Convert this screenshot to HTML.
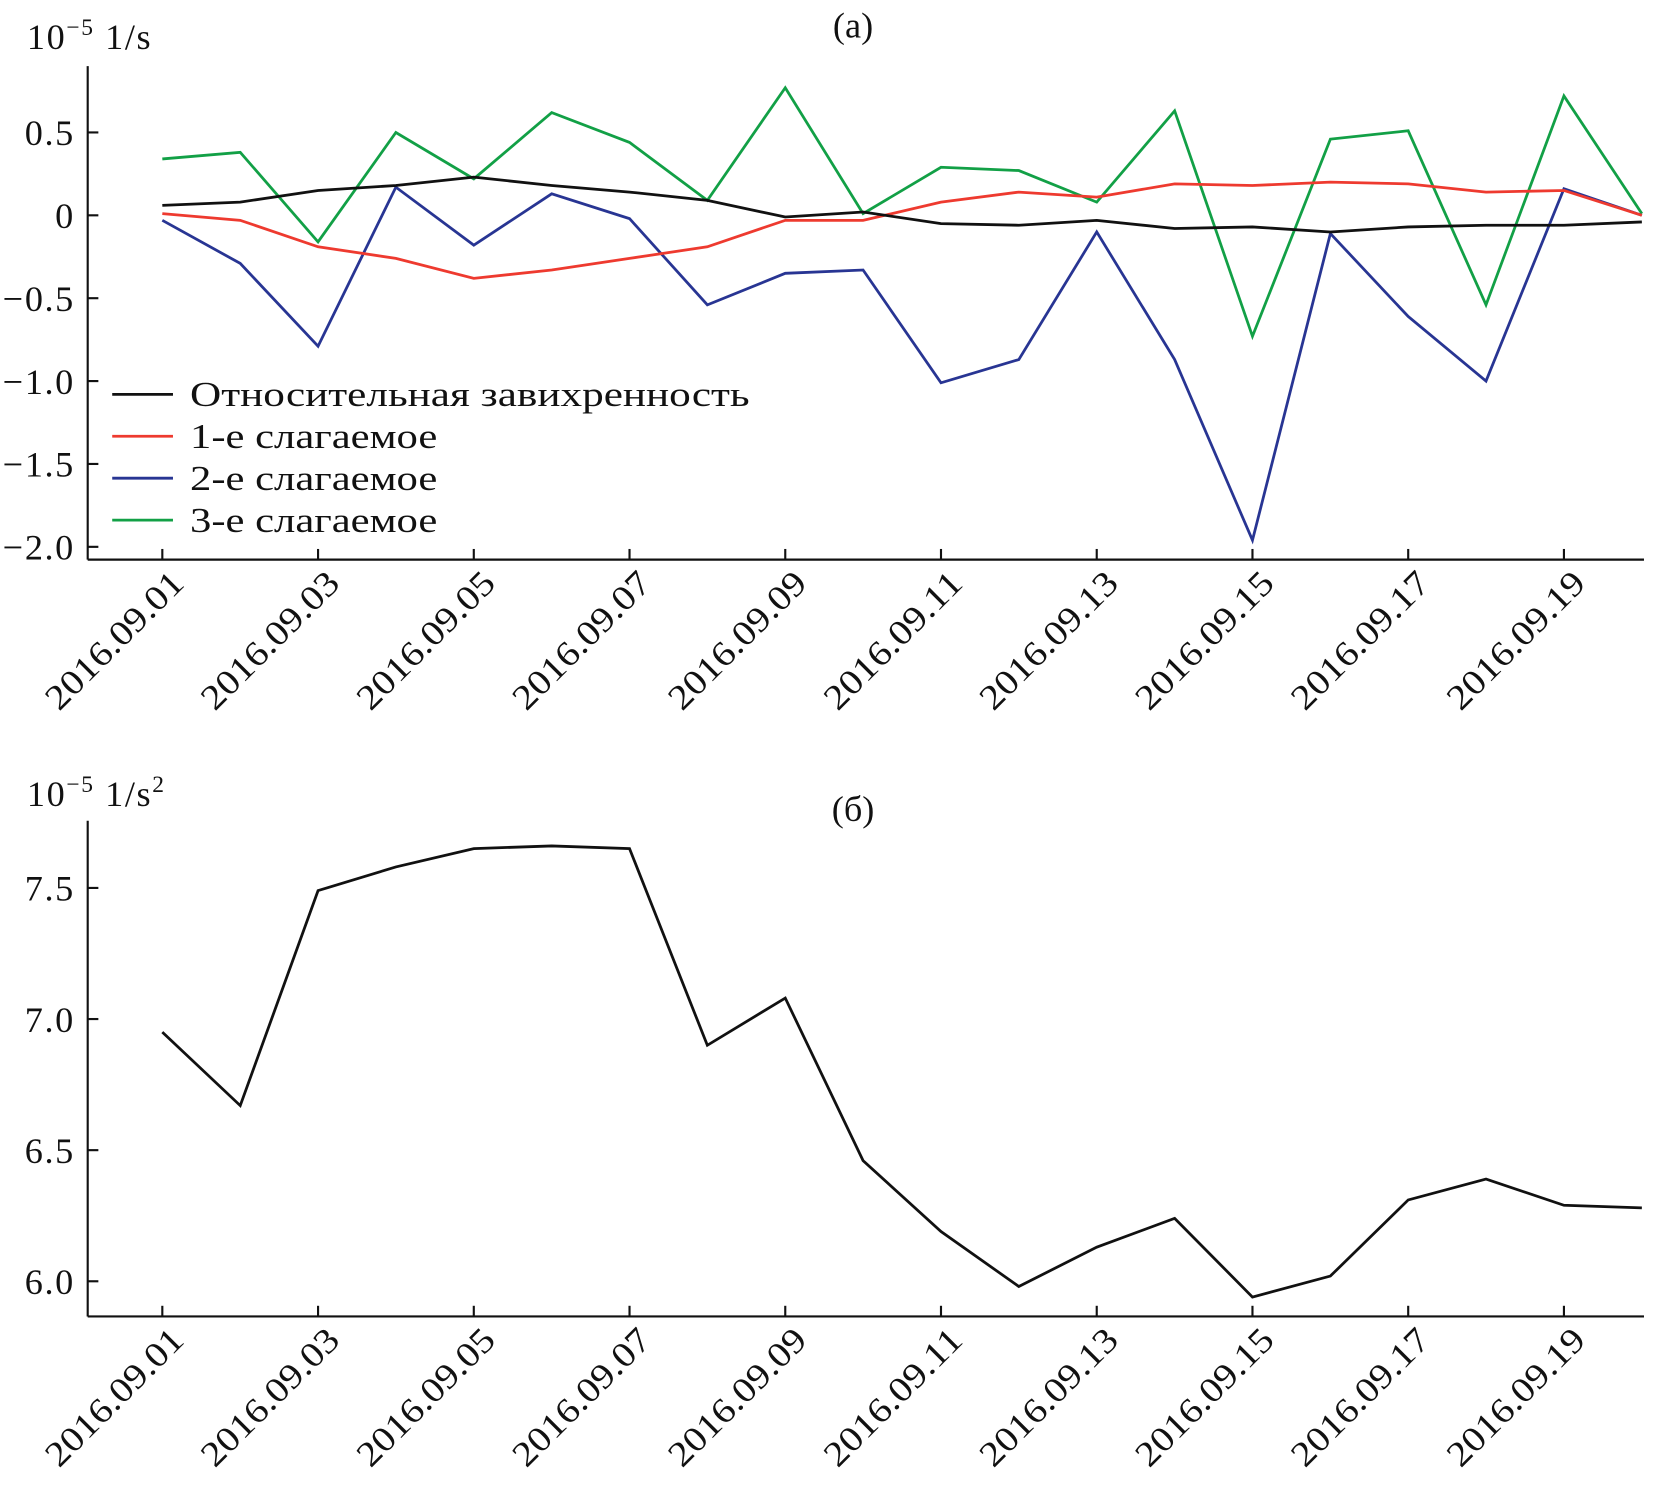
<!DOCTYPE html>
<html><head><meta charset="utf-8"><style>
body{margin:0;background:#fff}
svg text{font-family:"Liberation Serif",serif;fill:#111}
</style></head><body>
<svg width="1672" height="1487" viewBox="0 0 1568 1395" xmlns="http://www.w3.org/2000/svg">
<g id="pa"></g>
<g id="pb"></g>
</svg>
<script>
const dates=["2016.09.01","2016.09.03","2016.09.05","2016.09.07","2016.09.09","2016.09.11","2016.09.13","2016.09.15","2016.09.17","2016.09.19"];
const vorticity=[0.06,0.08,0.15,0.18,0.23,0.18,0.14,0.09,-0.01,0.02,-0.05,-0.06,-0.03,-0.08,-0.07,-0.10,-0.07,-0.06,-0.06,-0.04];
const term1=[0.01,-0.03,-0.19,-0.26,-0.38,-0.33,-0.26,-0.19,-0.03,-0.03,0.08,0.14,0.11,0.19,0.18,0.20,0.19,0.14,0.15,0.0];
const term2=[-0.03,-0.29,-0.79,0.17,-0.18,0.13,-0.02,-0.54,-0.35,-0.33,-1.01,-0.87,-0.10,-0.87,-1.96,-0.11,-0.61,-1.00,0.16,0.00];
const term3=[0.34,0.38,-0.16,0.50,0.22,0.62,0.44,0.09,0.77,0.01,0.29,0.27,0.08,0.63,-0.73,0.46,0.51,-0.54,0.72,0.01];
const panelB=[6.95,6.67,7.49,7.58,7.65,7.66,7.65,6.90,7.08,6.46,6.19,5.98,6.13,6.24,5.94,6.02,6.31,6.39,6.29,6.28];
const ticksA=[0.5,0,-0.5,-1.0,-1.5,-2.0];
const tickLabelsA=["0.5","0","\u22120.5","\u22121.0","\u22121.5","\u22122.0"];
const ticksB=[7.5,7.0,6.5,6.0];
const tickLabelsB=["7.5","7.0","6.5","6.0"];
const NS="http://www.w3.org/2000/svg";
function mk(p,t,a,txt){const e=document.createElementNS(NS,t);for(const k in a)e.setAttribute(k,a[k]);if(txt!==undefined)e.textContent=txt;p.appendChild(e);return e;}
const xS=i=>152+i*73.05;
function axes(g,axY,topY,yS,ticks,labels){
  let e=mk(g,'line',{x1:82,y1:topY,x2:82,y2:axY,stroke:'#111','stroke-width':2});
  
  e=mk(g,'line',{x1:82,y1:axY,x2:1542,y2:axY,stroke:'#111','stroke-width':2});
  
  ticks.forEach((v,i)=>{const y=yS(v);
    e=mk(g,'line',{x1:82,y1:y,x2:92,y2:y,stroke:'#111','stroke-width':2});
    
    e=mk(g,'text',{x:70,y:y+12,'text-anchor':'end','font-size':34,'letter-spacing':1.5},labels[i]);
    });
  dates.forEach((d,i)=>{const x=xS(i*2);
    e=mk(g,'line',{x1:x,y1:axY,x2:x,y2:axY-10,stroke:'#111','stroke-width':2});
    
    e=mk(g,'text',{x:x+22,y:axY+24,'text-anchor':'end','font-size':33,textLength:168,lengthAdjust:'spacingAndGlyphs',transform:`rotate(-45 ${x+22} ${axY+24})`},d);
    });
}
function line(g,vals,yS,col,name){const pts=vals.map((v,i)=>xS(i).toFixed(1)+','+yS(v).toFixed(1)).join(' ');
  const e=mk(g,'polyline',{points:pts,fill:'none',stroke:col,'stroke-width':2.6,'stroke-linejoin':'miter'});
  }
const ga=document.getElementById('pa');
const yA=v=>202-v*155.5;
axes(ga,525,62,yA,ticksA,tickLabelsA);
let t=mk(ga,'text',{x:25,y:46,'font-size':34,'letter-spacing':1.5},'10');
mk(t,'tspan',{dy:-13,'font-size':22},'\u22125');mk(t,'tspan',{dy:13},' 1/s');
t=mk(ga,'text',{x:800,y:35,'text-anchor':'middle','font-size':34},'(a)');
line(ga,term3,yA,'#12a046','term3-line');
line(ga,term2,yA,'#283593','term2-line');
line(ga,term1,yA,'#ee3a2f','term1-line');
line(ga,vorticity,yA,'#111','vorticity-line');
const leg=[["Относительная завихренность",'#111',525],["1-е слагаемое",'#ee3a2f',232],["2-е слагаемое",'#283593',232],["3-е слагаемое",'#12a046',232]];
leg.forEach((l,i)=>{const y=370+i*39.3;const gg=mk(ga,'g',{});
  mk(gg,'line',{x1:105,y1:y,x2:162,y2:y,stroke:l[1],'stroke-width':2.6});
  mk(gg,'text',{x:178,y:y+11,'font-size':33,textLength:l[2],lengthAdjust:'spacingAndGlyphs'},l[0]);});
const gb=document.getElementById('pb');
const yB=v=>956-(v-7)*246;
axes(gb,1235,770,yB,ticksB,tickLabelsB);
t=mk(gb,'text',{x:25,y:756,'font-size':34,'letter-spacing':1.5},'10');
mk(t,'tspan',{dy:-13,'font-size':22},'\u22125');mk(t,'tspan',{dy:13},' 1/s');mk(t,'tspan',{dy:-13,'font-size':22},'2');
t=mk(gb,'text',{x:800,y:770,'text-anchor':'middle','font-size':34},'(б)');
line(gb,panelB,yB,'#111','panel-b-line');
</script>
</body></html>
